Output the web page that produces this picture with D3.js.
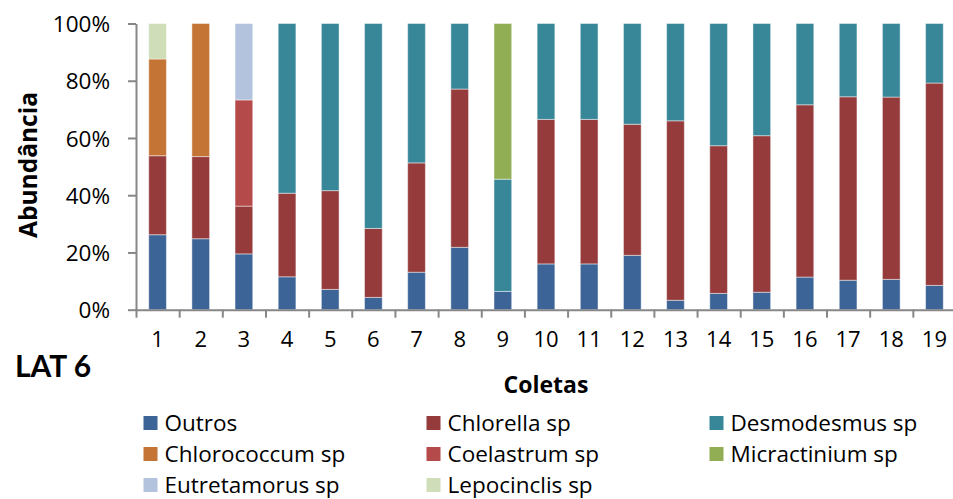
<!DOCTYPE html>
<html>
<head>
<meta charset="utf-8">
<script src="https://cdn.jsdelivr.net/npm/d3@7"></script>
<style>
  html, body { margin: 0; padding: 0; background: #fff; }
  svg { display: block; font-family: "Open Sans", Lato, sans-serif; }
</style>
</head>
<body>
<svg id="chart" width="953" height="499"></svg>
<script>
// Sampling campaigns (x axis)
const coletas = ["1","2","3","4","5","6","7","8","9","10","11","12","13","14","15","16","17","18","19"];

// Relative abundance (%) per taxon, one value per campaign
const outros       = [26.2, 24.8, 19.5, 11.5, 7.1, 4.3, 13.1, 21.8, 6.4, 16.0, 16.0, 19.0, 3.3, 5.7, 6.1, 11.4, 10.3, 10.6, 8.5];
const chlorella    = [27.6, 28.7, 16.7, 29.2, 34.5, 24.1, 38.2, 55.3, 0, 50.5, 50.5, 45.8, 62.7, 51.6, 54.7, 60.2, 64.1, 63.7, 70.7];
const desmodesmus  = [0, 0, 0, 59.3, 58.4, 71.6, 48.7, 22.9, 39.2, 33.5, 33.5, 35.2, 34.0, 42.7, 39.2, 28.4, 25.6, 25.7, 20.8];
const chlorococcum = [33.8, 46.5, 0, 0, 0, 0, 0, 0, 0, 0, 0, 0, 0, 0, 0, 0, 0, 0, 0];
const coelastrum   = [0, 0, 37.1, 0, 0, 0, 0, 0, 0, 0, 0, 0, 0, 0, 0, 0, 0, 0, 0];
const micractinium = [0, 0, 0, 0, 0, 0, 0, 0, 54.4, 0, 0, 0, 0, 0, 0, 0, 0, 0, 0];
const eutretamorus = [0, 0, 26.7, 0, 0, 0, 0, 0, 0, 0, 0, 0, 0, 0, 0, 0, 0, 0, 0];
const lepocinclis  = [12.4, 0, 0, 0, 0, 0, 0, 0, 0, 0, 0, 0, 0, 0, 0, 0, 0, 0, 0];

const yTicks = [0, 20, 40, 60, 80, 100];

const seriesNames = ["Outros", "Chlorella sp", "Desmodesmus sp", "Chlorococcum sp",
                     "Coelastrum sp", "Micractinium sp", "Eutretamorus sp", "Lepocinclis sp"];
const seriesValues = [outros, chlorella, desmodesmus, chlorococcum,
                      coelastrum, micractinium, eutretamorus, lepocinclis];
const seriesColors = ["#3D6497", "#953B3B", "#388799", "#C47535",
                      "#B54A4A", "#91AE54", "#B3C3DE", "#CFDDB8"];

// Table of rows for d3.stack
const rows = coletas.map((c, i) => {
  const r = { coleta: c };
  seriesNames.forEach((n, k) => r[n] = seriesValues[k][i]);
  return r;
});

const svg = d3.select("#chart");
const plotLeft = 136, plotRight = 956, plotTop = 23.5, plotBottom = 309.7;
const axisColor = "#878787";
const font = "'Open Sans', Lato, sans-serif";

const x = d3.scaleBand().domain(coletas).range([plotLeft, plotRight])
  .paddingInner(0.59).paddingOuter(0.295);
const y = d3.scaleLinear().domain([0, 100]).range([plotBottom, plotTop]);
const color = d3.scaleOrdinal().domain(seriesNames).range(seriesColors);

const stacked = d3.stack().keys(seriesNames)(rows);

// Stacked bars
svg.append("g").selectAll("g")
  .data(stacked).join("g")
  .attr("fill", d => color(d.key))
  .selectAll("rect")
  .data(d => d.filter(p => p[1] - p[0] > 0))
  .join("rect")
  .attr("x", d => x(d.data.coleta))
  .attr("width", x.bandwidth())
  .attr("y", d => y(d[1]))
  .attr("height", d => y(d[0]) - y(d[1]))
  .attr("stroke", "rgba(255,255,255,0.45)")
  .attr("stroke-width", 1);

// Y axis
const yAxis = svg.append("g")
  .attr("transform", `translate(${plotLeft},0)`)
  .call(d3.axisLeft(y).tickValues(yTicks).tickFormat(d => d + "%")
    .tickSize(8).tickSizeOuter(0).tickPadding(18));
yAxis.select(".domain").attr("stroke", axisColor).attr("stroke-width", 2);
yAxis.selectAll(".tick line").attr("stroke", axisColor).attr("stroke-width", 2);
yAxis.selectAll(".tick text")
  .attr("font-family", font)
  .attr("font-size", 22.5).attr("fill", "#000").attr("dy", "0.36em");

// X axis: ticks between categories
const xEdges = d3.scaleLinear().domain([0, coletas.length]).range([plotLeft, plotRight]);
const xAxis = svg.append("g")
  .attr("transform", `translate(0,${plotBottom})`)
  .call(d3.axisBottom(xEdges).tickValues(d3.range(coletas.length + 1))
    .tickFormat("").tickSize(8).tickSizeOuter(0));
xAxis.select(".domain").attr("stroke", axisColor).attr("stroke-width", 2);
xAxis.selectAll(".tick line").attr("stroke", axisColor).attr("stroke-width", 2);

// X category labels
const xLabels = svg.append("g")
  .attr("transform", `translate(0,${plotBottom})`)
  .call(d3.axisBottom(x).tickSize(0).tickPadding(22));
xLabels.select(".domain").remove();
xLabels.selectAll(".tick text")
  .attr("font-family", font)
  .attr("font-size", 22).attr("fill", "#000");

// Axis titles
svg.append("text")
  .attr("transform", "translate(37,165) rotate(-90)")
  .attr("text-anchor", "middle")
  .attr("font-size", 24.5).attr("font-weight", "bold")
  .text("Abundância");

svg.append("text")
  .attr("x", 546).attr("y", 392.7)
  .attr("text-anchor", "middle")
  .attr("font-size", 23).attr("font-weight", "bold")
  .text("Coletas");

svg.append("text")
  .attr("x", 15).attr("y", 377.3)
  .attr("font-size", 30).attr("font-weight", "bold")
  .attr("font-family", "Lato, 'Open Sans', sans-serif")
  .text("LAT 6");

// Legend: three columns, filled row by row
const legendX = [143.5, 426.5, 709.5];
const legendY = [416, 447, 478];
const legend = svg.append("g").selectAll("g")
  .data(seriesNames).join("g")
  .attr("transform", (d, i) => `translate(${legendX[i % 3]},${legendY[Math.floor(i / 3)]})`);
legend.append("rect")
  .attr("width", 14).attr("height", 14)
  .attr("fill", d => color(d));
legend.append("text")
  .attr("x", 21).attr("y", 14.8)
  .attr("font-size", 22.5).attr("fill", "#000")
  .text(d => d);
</script>
</body>
</html>
